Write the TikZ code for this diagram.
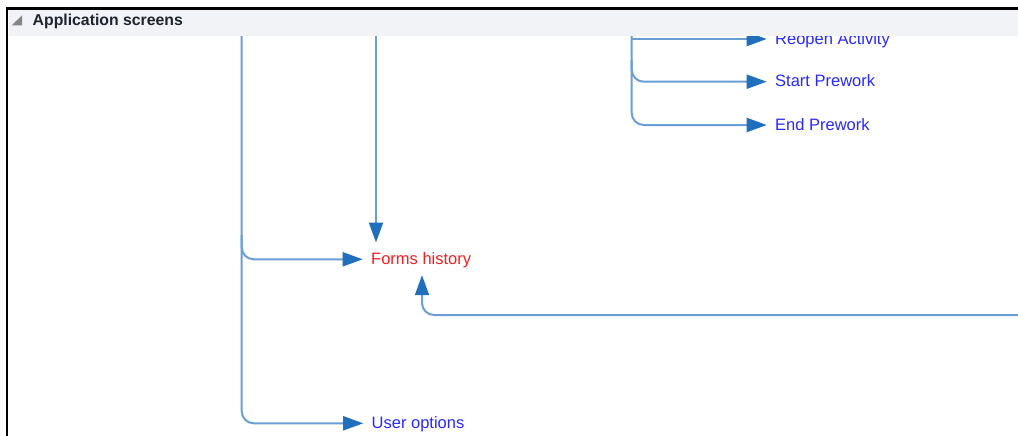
\documentclass[tikz,border=0pt]{standalone}
\usepackage{fontspec}
\setmainfont{Liberation Sans}
\usetikzlibrary{arrows.meta}
\definecolor{linec}{HTML}{6A9ED6}
\definecolor{tipc}{HTML}{1F6FBD}
\definecolor{lblblue}{HTML}{2828FF}
\definecolor{lblred}{HTML}{F51E1E}
\definecolor{hdr}{HTML}{F2F3F7}
\definecolor{hdrtext}{HTML}{1E2430}
\definecolor{tri}{HTML}{858585}
\begin{document}
\begin{tikzpicture}[x=1pt,y=-1pt,
  conn/.style={draw=linec, line width=2pt, rounded corners=12pt,
    -{Triangle[length=20pt,width=14pt,color=tipc]}},
  lbl/.style={anchor=base west, inner sep=0pt, font=\fontsize{16.5}{19}\selectfont,
    text height=11.5pt, text depth=0.9pt},
]
\useasboundingbox (0,0) rectangle (1018,436);
\clip (0,0) rectangle (1018,436);
\fill[white] (0,0) rectangle (1018,436);

% labels
\node[lbl,text=lblblue] (user) at (371.5,428.6) {User options};
\node[lbl,text=lblred] (forms) at (371,264.6) {Forms history};
\node[lbl,text=lblblue] (reopen) at (775,44.3) {Reopen Activity};
\node[lbl,text=lblblue] (start) at (775,87) {Start Prework};
\node[lbl,text=lblblue] (endp) at (775,130.3) {End Prework};

% left trunk
\coordinate (v1) at (241.7,20);
\coordinate (v1b) at (241.7,235);
\draw[conn] (v1) |- ([xshift=-8.3pt]user.west);
\draw[conn] (v1b) |- ([xshift=-8.3pt]forms.west);

% second trunk
\coordinate (v2) at (376,20);
\draw[conn, shorten >=10.4pt] (v2) -- (v2 |- forms.north);

% line from the right
\coordinate (r3) at (1030,315);
\draw[conn, shorten >=9.5pt] (r3) -| ([xshift=51pt]forms.south west);

% right trunk
\coordinate (v4) at (631.7,20);
\coordinate (v4b) at (631.7,60);
\draw[conn] (v4) |- ([xshift=-8.3pt]endp.west);
\draw[conn] (v4b) |- ([xshift=-8.3pt]start.west);
\draw[conn] (v4 |- reopen.west) -- ([xshift=-8.3pt]reopen.west);

% header
\fill[hdr] (8.5,10) rectangle (1030,36);
\fill[tri] (11.5,25.5) -- (22,25.5) -- (22,15.5) -- cycle;
\node[anchor=base west, inner sep=0pt, font=\bfseries\fontsize{15.8}{18}\selectfont,
  text=hdrtext] (title) at (32.5,26) {Application screens};

% frame
\draw[black, line width=2.8pt] (7,450) -- (7,8.6) -- (1040,8.6);
\end{tikzpicture}
\end{document}
